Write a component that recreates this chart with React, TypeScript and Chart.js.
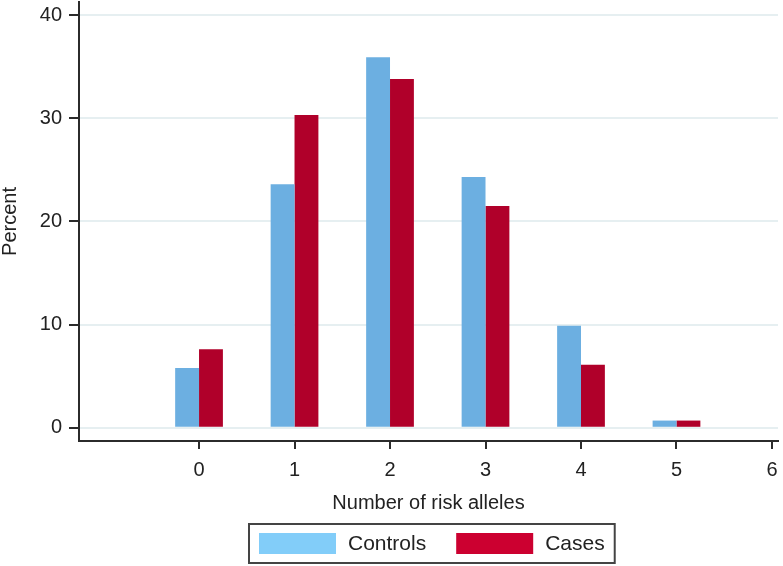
import React, { useEffect, useRef } from 'react';
import { Chart, registerables } from 'chart.js';

Chart.register(...registerables);

const alleleCounts = [0, 1, 2, 3, 4, 5];
const controlsPct = [5.8, 23.6, 35.9, 24.3, 9.9, 0.7];
const casesPct = [7.6, 30.3, 33.8, 21.5, 6.1, 0.7];
const xTickValues = [0, 1, 2, 3, 4, 5, 6];
const yTickValues = [0, 10, 20, 30, 40];
const seriesLabels = ['Controls', 'Cases'];
const barColors = ['#6cafe1', '#b0002a'];
const legendColors = ['#82cdf9', '#cc0030'];
const xTitle = 'Number of risk alleles';
const yTitle = 'Percent';

const FONT = '"Liberation Sans", Arial, Helvetica, sans-serif';
const AXIS = '#2b2b2b';

const boxLegend = {
  id: 'boxLegend',
  afterDraw(chart: any) {
    const { ctx, chartArea, height } = chart;
    ctx.save();
    ctx.font = `21px ${FONT}`;
    const sw = 77, sh = 21, gap = 12, itemGap = 30, padX = 10, boxH = 39;
    const widths = seriesLabels.map((l) => ctx.measureText(l).width);
    const total =
      padX * 2 + widths.reduce((a, w) => a + sw + gap + w, 0) + itemGap * (seriesLabels.length - 1);
    const cx = (chartArea.left + chartArea.right) / 2 + 3;
    const left = Math.round(cx - total / 2);
    const top = height - 3 - boxH;
    ctx.strokeStyle = '#444';
    ctx.lineWidth = 2;
    ctx.strokeRect(left, top, total, boxH);
    let x = left + padX;
    const cy = top + boxH / 2;
    seriesLabels.forEach((l, i) => {
      ctx.fillStyle = legendColors[i];
      ctx.fillRect(x, cy - sh / 2, sw, sh);
      x += sw + gap;
      ctx.fillStyle = '#222';
      ctx.textBaseline = 'middle';
      ctx.textAlign = 'left';
      ctx.fillText(l, x, cy + 1);
      x += widths[i] + itemGap;
    });
    ctx.restore();
  },
};

export default function App() {
  const ref = useRef<HTMLCanvasElement | null>(null);

  useEffect(() => {
    if (!ref.current) return;
    const chart = new Chart(ref.current, {
      type: 'bar',
      data: {
        datasets: [
          {
            label: seriesLabels[0],
            data: alleleCounts.map((x, i) => ({ x, y: controlsPct[i] })),
            backgroundColor: barColors[0],
            borderWidth: 0,
            categoryPercentage: 0.5,
            barPercentage: 1,
          },
          {
            label: seriesLabels[1],
            data: alleleCounts.map((x, i) => ({ x, y: casesPct[i] })),
            backgroundColor: barColors[1],
            borderWidth: 0,
            categoryPercentage: 0.5,
            barPercentage: 1,
          },
        ],
      },
      options: {
        animation: false,
        responsive: false,
        devicePixelRatio: 1,
        layout: { padding: { left: 0, top: 2, right: 5, bottom: 50 } },
        plugins: {
          legend: { display: false },
          tooltip: { enabled: false },
        },
        scales: {
          x: {
            type: 'linear',
            offset: false,
            min: -1.257,
            max: 6.063,
            afterBuildTicks: (axis: any) => {
              axis.ticks = xTickValues.map((v) => ({ value: v }));
            },
            afterFit: (scale: any) => {
              scale.height = 75;
              scale.paddingLeft = 0;
              scale.paddingRight = 0;
            },
            grid: {
              offset: false,
              drawOnChartArea: false,
              drawTicks: true,
              tickLength: 8,
              tickColor: AXIS,
              lineWidth: 2,
            },
            border: { display: true, color: AXIS, width: 2 },
            ticks: {
              color: '#222',
              font: { family: FONT, size: 20 },
              padding: 9,
              maxRotation: 0,
              autoSkip: false,
            },
            title: {
              display: true,
              text: xTitle,
              color: '#222',
              font: { family: FONT, size: 20, lineHeight: 1 },
              padding: { top: 0, bottom: 3 },
            },
          },
          y: {
            type: 'linear',
            min: -1.28,
            max: 41.26,
            afterBuildTicks: (axis: any) => {
              axis.ticks = yTickValues.map((v) => ({ value: v }));
            },
            afterFit: (scale: any) => {
              scale.width = 79;
              scale.paddingTop = 0;
              scale.paddingBottom = 0;
            },
            grid: {
              drawOnChartArea: true,
              color: '#e6eff1',
              tickColor: AXIS,
              tickLength: 10,
              lineWidth: 2,
            },
            border: { display: true, color: AXIS, width: 2 },
            ticks: {
              color: '#222',
              font: { family: FONT, size: 20 },
              padding: 7,
            },
            title: {
              display: true,
              text: yTitle,
              color: '#222',
              font: { family: FONT, size: 20, lineHeight: 1 },
              padding: { top: 0, bottom: 0 },
            },
          },
        },
      },
      plugins: [boxLegend],
    } as any);
    return () => chart.destroy();
  }, []);

  return (
    <div style={{ position: 'absolute', left: 0, top: 0, width: 783, height: 566, background: '#fff' }}>
      <canvas ref={ref} width={783} height={566} style={{ display: 'block', width: 783, height: 566 }} />
    </div>
  );
}
